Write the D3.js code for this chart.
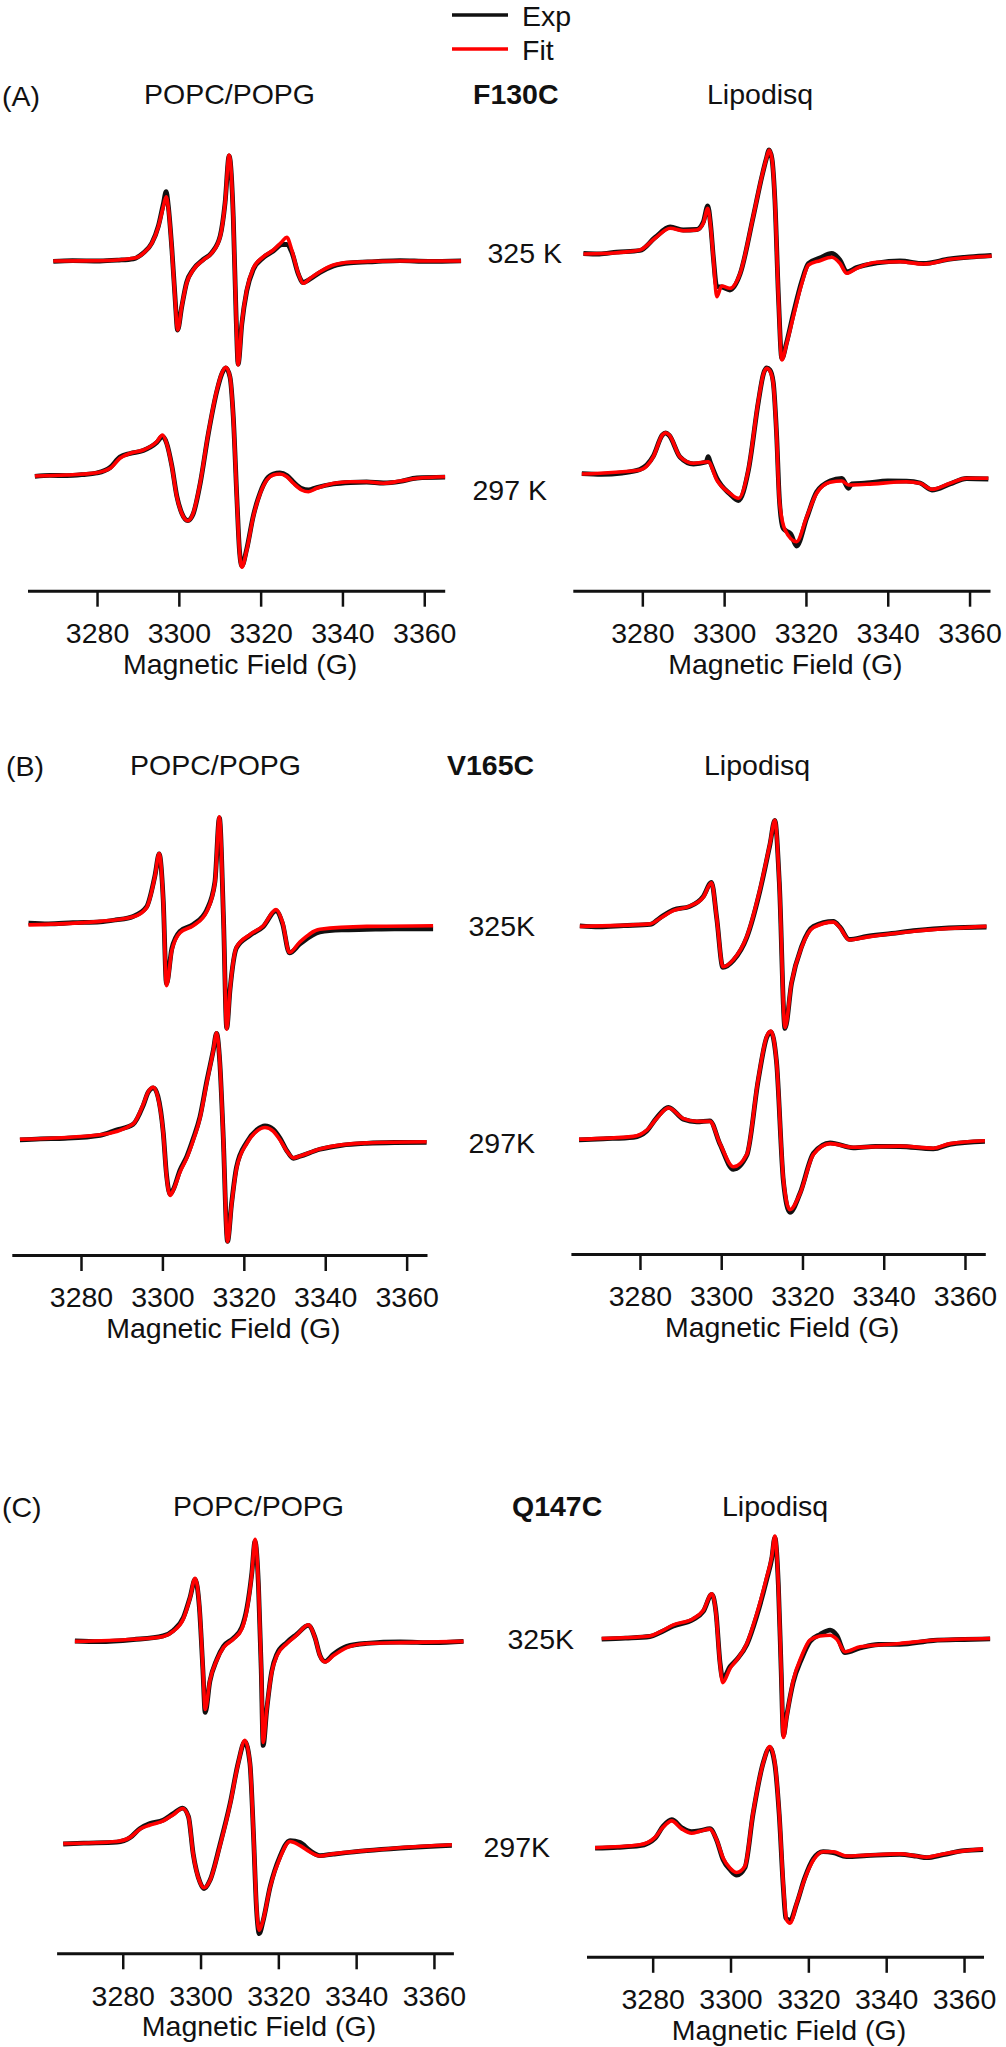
<!DOCTYPE html>
<html>
<head>
<meta charset="utf-8">
<script src="https://cdn.jsdelivr.net/npm/d3@7"></script>
<style>
  html, body { margin: 0; padding: 0; background: #fff; }
  svg { display: block; }
  text { font-family: "Liberation Sans", Arial, sans-serif; fill: #111; }
</style>
</head>
<body>
<script>
// ---------------- DATA (field in G, intensity in arbitrary units) ----------------
const tickValues = [3280, 3300, 3320, 3340, 3360];
const fieldDomain = [3263, 3365];
const seriesNames = ["Exp", "Fit"];
const temperatures = ["325 K", "297 K"];

// (A) F130C, POPC/POPG
const A_POPC_325_fit = [[3269.3,0],[3280.7,0.003],[3288.9,0.027],[3291.3,0.077],[3293.4,0.177],[3295.0,0.343],[3296.2,0.543],[3296.9,0.643],[3297.4,0.543],[3298.3,0.11],[3299.1,-0.39],[3299.7,-0.69],[3300.7,-0.457],[3301.9,-0.223],[3303.5,-0.09],[3306.0,0.01],[3308.0,0.077],[3310.1,0.243],[3311.3,0.577],[3312.3,1.06],[3313.3,0.443],[3314.0,-0.557],[3314.5,-1.04],[3315.4,-0.623],[3316.6,-0.29],[3318.2,-0.073],[3320.7,0.043],[3323.1,0.11],[3325.2,0.193],[3326.4,0.237],[3327.6,0.11],[3329.2,-0.123],[3330.4,-0.223],[3332.1,-0.173],[3334.5,-0.107],[3337.8,-0.04],[3341.9,-0.013],[3354.1,0],[3369.0,0]];
const A_POPC_325_exp = [[3269.3,-0.004],[3274.0,0.004],[3280.7,0.0],[3285.0,0.008],[3288.9,0.022],[3291.3,0.08],[3293.4,0.18],[3295.0,0.35],[3296.2,0.57],[3296.9,0.693],[3297.4,0.56],[3298.3,0.12],[3299.1,-0.38],[3299.7,-0.69],[3300.7,-0.46],[3301.9,-0.215],[3303.5,-0.085],[3306.0,0.016],[3308.0,0.082],[3310.1,0.25],[3311.3,0.58],[3312.3,1.05],[3313.3,0.45],[3314.0,-0.55],[3314.5,-1.03],[3315.4,-0.63],[3316.6,-0.3],[3318.2,-0.085],[3320.7,0.035],[3323.1,0.1],[3325.2,0.165],[3326.4,0.165],[3327.6,0.09],[3329.2,-0.13],[3330.4,-0.215],[3332.1,-0.18],[3334.5,-0.115],[3337.8,-0.05],[3341.9,-0.018],[3348.0,-0.006],[3354.1,0.004],[3361.0,-0.004],[3369.0,0.002]];
const A_POPC_297_fit = [[3264.8,0],[3272.6,0.01],[3279.9,0.033],[3283.2,0.077],[3285.6,0.177],[3288.1,0.227],[3291.3,0.26],[3294.6,0.343],[3296.0,0.41],[3297.0,0.327],[3298.3,0.093],[3299.5,-0.207],[3300.7,-0.373],[3302.2,-0.447],[3303.5,-0.373],[3305.2,-0.073],[3307.2,0.427],[3309.3,0.86],[3310.5,1.027],[3311.5,1.087],[3312.5,0.993],[3313.3,0.593],[3314.2,-0.24],[3314.8,-0.74],[3315.4,-0.913],[3316.6,-0.74],[3318.2,-0.407],[3319.9,-0.173],[3321.5,-0.04],[3323.1,0.01],[3324.7,0.02],[3326.4,-0.007],[3328.0,-0.073],[3330.0,-0.14],[3331.7,-0.157],[3333.7,-0.123],[3337.8,-0.073],[3341.9,-0.057],[3345.9,-0.057],[3350.0,-0.073],[3354.1,-0.05],[3358.2,-0.023],[3365.1,-0.007]];
const A_POPC_297_exp = [[3264.8,-0.004],[3268.5,0.006],[3272.6,0.004],[3276.5,0.014],[3279.9,0.03],[3283.2,0.085],[3285.6,0.19],[3288.1,0.225],[3291.3,0.255],[3294.6,0.335],[3296.0,0.395],[3297.0,0.33],[3298.3,0.1],[3299.5,-0.2],[3300.7,-0.37],[3302.2,-0.445],[3303.5,-0.38],[3305.2,-0.08],[3307.2,0.42],[3309.3,0.85],[3310.5,1.02],[3311.5,1.08],[3312.5,0.99],[3313.3,0.6],[3314.2,-0.23],[3314.8,-0.73],[3315.4,-0.9],[3316.6,-0.73],[3318.2,-0.4],[3319.9,-0.165],[3321.5,-0.03],[3323.1,0.02],[3324.7,0.03],[3326.4,0.005],[3328.0,-0.06],[3330.0,-0.125],[3331.7,-0.14],[3333.7,-0.115],[3337.8,-0.08],[3341.9,-0.065],[3345.9,-0.06],[3350.0,-0.07],[3354.1,-0.055],[3358.2,-0.02],[3365.1,-0.012]];

// (A) F130C, Lipodisq
const A_LIPO_325_fit = [[3265.6,0],[3273.7,0.013],[3279.4,0.04],[3283.1,0.157],[3286.8,0.257],[3290.0,0.233],[3293.3,0.24],[3294.9,0.307],[3296.0,0.457],[3296.7,0.273],[3297.4,-0.06],[3298.2,-0.427],[3299.4,-0.32],[3301.4,-0.343],[3303.9,-0.193],[3307.1,0.373],[3309.2,0.773],[3310.3,0.95],[3311.0,1.04],[3311.7,0.95],[3312.4,0.54],[3313.3,-0.46],[3314.1,-1.06],[3315.3,-0.893],[3316.9,-0.627],[3319.0,-0.293],[3320.6,-0.11],[3323.4,-0.067],[3326.3,-0.033],[3328.3,-0.093],[3330.0,-0.193],[3332.4,-0.143],[3337.3,-0.083],[3343.0,-0.077],[3348.7,-0.1],[3355.2,-0.053],[3365.4,-0.02]];
const A_LIPO_325_exp = [[3265.6,0.005],[3269.5,0.0],[3273.7,0.018],[3279.4,0.035],[3283.1,0.165],[3286.8,0.27],[3290.0,0.24],[3293.3,0.245],[3294.9,0.32],[3296.0,0.48],[3296.7,0.29],[3297.4,-0.05],[3298.2,-0.327],[3299.4,-0.33],[3301.4,-0.36],[3303.9,-0.2],[3307.1,0.37],[3309.2,0.77],[3310.3,0.95],[3311.0,1.04],[3311.7,0.95],[3312.4,0.55],[3313.3,-0.45],[3314.1,-1.045],[3315.3,-0.88],[3316.9,-0.6],[3319.0,-0.27],[3320.6,-0.095],[3323.4,-0.04],[3326.3,0.007],[3328.3,-0.06],[3330.0,-0.18],[3332.4,-0.135],[3337.3,-0.09],[3343.0,-0.07],[3348.7,-0.095],[3355.2,-0.05],[3360.0,-0.03],[3365.4,-0.015]];
const A_LIPO_297_fit = [[3265.2,0],[3279.4,0.04],[3282.7,0.173],[3284.9,0.39],[3285.7,0.413],[3286.6,0.39],[3289.2,0.173],[3292.5,0.107],[3296.1,0.123],[3298.2,-0.06],[3301.4,-0.193],[3303.5,-0.243],[3305.9,0.04],[3308.4,0.74],[3309.6,1.0],[3310.4,1.057],[3311.2,1.03],[3312.0,0.907],[3312.8,0.407],[3313.5,-0.26],[3314.9,-0.56],[3317.7,-0.677],[3320.2,-0.427],[3322.6,-0.193],[3325.9,-0.083],[3328.8,-0.07],[3330.4,-0.11],[3334.9,-0.103],[3344.6,-0.077],[3347.9,-0.093],[3350.8,-0.153],[3355.2,-0.093],[3359.3,-0.043],[3364.6,-0.043]];
const A_LIPO_297_exp = [[3265.2,0.004],[3270.0,-0.004],[3275.0,0.01],[3279.4,0.045],[3282.7,0.18],[3284.9,0.39],[3285.7,0.41],[3286.6,0.385],[3289.2,0.17],[3292.5,0.1],[3295.6,0.12],[3296.1,0.173],[3296.6,0.12],[3298.2,-0.04],[3301.4,-0.2],[3303.5,-0.265],[3305.9,0.03],[3308.4,0.73],[3309.6,1.0],[3310.4,1.06],[3311.2,1.04],[3312.0,0.92],[3312.8,0.42],[3313.5,-0.25],[3314.4,-0.54],[3315.2,-0.57],[3316.3,-0.6],[3317.7,-0.72],[3320.2,-0.44],[3322.6,-0.18],[3325.9,-0.07],[3328.8,-0.043],[3330.4,-0.143],[3331.2,-0.1],[3334.9,-0.09],[3340.0,-0.07],[3344.6,-0.072],[3347.9,-0.09],[3350.8,-0.16],[3355.2,-0.1],[3359.3,-0.045],[3364.6,-0.05]];

// (B) V165C, POPC/POPG
const B_POPC_325_fit = [[3267.1,-0.01],[3284.7,0.025],[3292.8,0.071],[3296.1,0.161],[3298.2,0.482],[3299.2,0.704],[3300.2,0.232],[3301.0,-0.618],[3302.3,-0.268],[3304.3,-0.089],[3307.6,-0.018],[3310.9,0.125],[3312.9,0.411],[3314.0,1.071],[3315.0,0.054],[3315.8,-1.054],[3316.6,-0.661],[3318.2,-0.232],[3321.5,-0.107],[3324.8,-0.018],[3327.9,0.143],[3329.5,0.018],[3331.2,-0.286],[3333.8,-0.179],[3338.7,-0.054],[3350.2,-0.025],[3366.5,-0.018]];
const B_POPC_325_exp = [[3267.1,0.008],[3272.0,0.0],[3278.0,0.012],[3284.7,0.02],[3288.5,0.04],[3292.8,0.075],[3296.1,0.17],[3298.2,0.49],[3299.2,0.7],[3300.2,0.24],[3301.0,-0.6],[3302.3,-0.25],[3304.3,-0.075],[3307.6,-0.005],[3310.9,0.14],[3312.9,0.42],[3314.0,1.06],[3315.0,0.06],[3315.8,-1.04],[3316.6,-0.66],[3318.2,-0.24],[3321.5,-0.115],[3324.8,-0.025],[3327.9,0.13],[3329.5,0.005],[3331.2,-0.29],[3333.8,-0.2],[3338.7,-0.08],[3344.0,-0.06],[3350.2,-0.055],[3357.0,-0.05],[3366.5,-0.05]];
const B_POPC_297_fit = [[3265.0,0],[3284.7,0.046],[3292.8,0.154],[3295.3,0.35],[3296.5,0.475],[3297.8,0.521],[3298.9,0.42],[3300.2,0.064],[3301.0,-0.364],[3301.9,-0.561],[3302.7,-0.507],[3304.3,-0.329],[3306.0,-0.186],[3307.6,-0.007],[3309.2,0.207],[3310.9,0.564],[3312.5,0.886],[3313.3,1.064],[3314.1,0.771],[3314.9,0.064],[3316.0,-1.025],[3317.0,-0.65],[3318.2,-0.293],[3320.7,-0.043],[3323.2,0.082],[3325.2,0.118],[3327.2,0.082],[3328.9,-0.007],[3330.5,-0.114],[3332.2,-0.186],[3333.8,-0.168],[3338.7,-0.096],[3350.2,-0.036],[3364.9,-0.025]];
const B_POPC_297_exp = [[3265.0,-0.006],[3270.0,0.004],[3276.0,0.01],[3284.7,0.04],[3288.5,0.09],[3292.8,0.15],[3295.3,0.34],[3296.5,0.47],[3297.8,0.515],[3298.9,0.43],[3300.2,0.07],[3301.0,-0.35],[3301.9,-0.55],[3302.7,-0.5],[3304.3,-0.31],[3306.0,-0.17],[3307.6,0.01],[3309.2,0.22],[3310.9,0.58],[3312.5,0.89],[3313.3,1.06],[3314.1,0.77],[3314.9,0.07],[3316.0,-1.02],[3317.0,-0.64],[3318.2,-0.28],[3320.7,-0.03],[3323.2,0.095],[3325.2,0.135],[3327.2,0.1],[3328.9,0.01],[3330.5,-0.11],[3332.2,-0.19],[3333.8,-0.17],[3338.7,-0.1],[3344.0,-0.06],[3350.2,-0.04],[3357.0,-0.032],[3364.9,-0.03]];

// (B) V165C, Lipodisq
const B_LIPO_325_fit = [[3265.2,0],[3282.5,0.025],[3284.9,0.079],[3288.2,0.157],[3292.3,0.204],[3295.6,0.293],[3297.6,0.436],[3298.9,0.079],[3300.4,-0.404],[3303.0,-0.332],[3306.3,-0.1],[3309.5,0.364],[3312.0,0.829],[3313.2,1.061],[3314.3,0.436],[3315.7,-1.011],[3317.3,-0.564],[3319.8,-0.207],[3322.7,-0.011],[3327.6,0.043],[3329.2,-0.011],[3331.5,-0.136],[3335.8,-0.107],[3348.1,-0.046],[3365.3,0]];
const B_LIPO_325_exp = [[3265.2,0.006],[3270.0,-0.004],[3276.0,0.008],[3282.5,0.02],[3284.9,0.085],[3288.2,0.165],[3292.3,0.2],[3295.6,0.3],[3297.6,0.44],[3298.9,0.08],[3300.4,-0.41],[3303.0,-0.34],[3306.3,-0.11],[3309.5,0.35],[3312.0,0.82],[3313.2,1.06],[3314.3,0.44],[3315.7,-1.02],[3317.3,-0.57],[3319.8,-0.2],[3322.7,0.0],[3327.6,0.05],[3329.2,-0.005],[3331.5,-0.13],[3335.8,-0.1],[3342.0,-0.07],[3348.1,-0.04],[3356.0,-0.015],[3365.3,-0.006]];
const B_LIPO_297_fit = [[3265.0,0],[3278.4,0.029],[3281.6,0.089],[3284.1,0.207],[3287.0,0.314],[3290.7,0.207],[3294.0,0.179],[3297.2,0.179],[3299.7,-0.043],[3303.0,-0.275],[3306.3,-0.15],[3309.1,0.6],[3311.2,1.029],[3312.2,1.082],[3313.6,0.779],[3315.3,-0.4],[3316.9,-0.704],[3319.4,-0.543],[3322.7,-0.15],[3326.8,-0.043],[3332.5,-0.079],[3344.0,-0.068],[3352.2,-0.089],[3356.3,-0.043],[3364.9,-0.014]];
const B_LIPO_297_exp = [[3265.0,-0.005],[3271.0,0.005],[3278.4,0.02],[3281.6,0.08],[3284.1,0.215],[3287.0,0.32],[3290.7,0.2],[3294.0,0.175],[3297.2,0.185],[3299.7,-0.05],[3303.0,-0.3],[3306.3,-0.16],[3309.1,0.59],[3311.2,1.02],[3312.2,1.075],[3313.6,0.78],[3315.3,-0.42],[3316.9,-0.73],[3319.4,-0.54],[3322.7,-0.14],[3326.8,-0.035],[3332.5,-0.085],[3338.0,-0.07],[3344.0,-0.072],[3352.2,-0.095],[3356.3,-0.05],[3364.9,-0.02]];

// (C) Q147C, POPC/POPG
const C_POPC_325_fit = [[3267.7,0],[3282.7,0.021],[3290.4,0.05],[3293.0,0.103],[3295.6,0.227],[3297.3,0.433],[3298.6,0.632],[3299.7,0.351],[3300.6,-0.268],[3301.2,-0.681],[3302.4,-0.392],[3304.2,-0.186],[3305.9,-0.062],[3308.4,0.021],[3310.6,0.124],[3311.9,0.31],[3313.2,0.681],[3314.0,1.02],[3314.9,0.557],[3315.6,-0.268],[3316.1,-1.011],[3317.0,-0.681],[3318.3,-0.309],[3319.6,-0.144],[3322.2,-0.021],[3324.7,0.062],[3327.7,0.165],[3329.4,0.041],[3330.7,-0.144],[3332.0,-0.206],[3334.1,-0.144],[3337.6,-0.062],[3342.7,-0.021],[3351.3,-0.012],[3367.6,0]];
const C_POPC_325_exp = [[3267.7,0.004],[3274.0,-0.003],[3282.7,0.018],[3290.4,0.055],[3293.0,0.11],[3295.6,0.24],[3297.3,0.44],[3298.6,0.62],[3299.7,0.34],[3300.6,-0.28],[3301.2,-0.71],[3302.4,-0.4],[3304.2,-0.18],[3305.9,-0.05],[3308.4,0.03],[3310.6,0.14],[3311.9,0.33],[3313.2,0.69],[3314.0,1.0],[3314.9,0.55],[3315.6,-0.28],[3316.1,-1.04],[3317.0,-0.69],[3318.3,-0.3],[3319.6,-0.13],[3322.2,-0.01],[3324.7,0.07],[3327.7,0.16],[3329.4,0.04],[3330.7,-0.14],[3332.0,-0.2],[3334.1,-0.13],[3337.6,-0.05],[3342.7,-0.02],[3351.3,-0.006],[3360.0,-0.012],[3367.6,0.0]];
const C_POPC_297_fit = [[3264.7,0],[3278.5,0.021],[3281.9,0.062],[3284.4,0.144],[3287.0,0.186],[3290.4,0.227],[3293.0,0.289],[3295.4,0.351],[3296.9,0.268],[3298.1,-0.103],[3299.9,-0.392],[3300.9,-0.442],[3302.4,-0.371],[3305.0,-0.021],[3307.6,0.392],[3309.7,0.805],[3311.4,1.032],[3312.7,0.805],[3313.6,0.103],[3314.4,-0.64],[3315.1,-0.867],[3316.1,-0.764],[3317.9,-0.433],[3320.4,-0.144],[3323.0,0.021],[3325.6,-0.021],[3328.1,-0.083],[3330.7,-0.124],[3334.1,-0.103],[3342.7,-0.07],[3351.3,-0.041],[3364.6,-0.012]];
const C_POPC_297_exp = [[3264.7,-0.004],[3270.0,0.004],[3278.5,0.015],[3281.9,0.06],[3284.4,0.15],[3287.0,0.2],[3290.4,0.235],[3293.0,0.3],[3295.4,0.355],[3296.9,0.27],[3298.1,-0.1],[3299.9,-0.39],[3300.9,-0.45],[3302.4,-0.37],[3305.0,-0.01],[3307.6,0.4],[3309.7,0.81],[3311.4,1.02],[3312.7,0.8],[3313.6,0.1],[3314.4,-0.66],[3315.1,-0.9],[3316.1,-0.77],[3317.9,-0.43],[3320.4,-0.13],[3323.0,0.03],[3325.6,0.01],[3328.1,-0.07],[3330.7,-0.12],[3334.1,-0.105],[3342.7,-0.07],[3351.3,-0.045],[3358.0,-0.03],[3364.6,-0.018]];

// (C) Q147C, Lipodisq
const C_LIPO_325_fit = [[3266.9,0],[3279.3,0.025],[3281.9,0.066],[3285.3,0.136],[3290.4,0.198],[3293.0,0.281],[3295.2,0.446],[3296.3,0.239],[3297.3,-0.256],[3298.0,-0.442],[3299.9,-0.297],[3301.6,-0.214],[3304.2,-0.05],[3306.7,0.239],[3309.3,0.611],[3310.6,0.817],[3311.4,1.024],[3312.3,0.528],[3313.0,-0.297],[3313.6,-0.99],[3314.4,-0.792],[3316.1,-0.421],[3318.3,-0.173],[3320.4,-0.017],[3323.0,0.025],[3325.6,0.033],[3327.3,-0.008],[3329.4,-0.132],[3333.3,-0.083],[3343.5,-0.05],[3352.1,-0.017],[3366.7,0]];
const C_LIPO_325_exp = [[3266.9,-0.006],[3273.0,0.004],[3279.3,0.02],[3281.9,0.06],[3285.3,0.125],[3290.4,0.19],[3293.0,0.27],[3295.2,0.44],[3296.3,0.25],[3297.3,-0.24],[3298.0,-0.4],[3299.9,-0.28],[3301.6,-0.21],[3304.2,-0.06],[3306.7,0.22],[3309.3,0.59],[3310.6,0.8],[3311.4,1.01],[3312.3,0.53],[3313.0,-0.3],[3313.6,-0.97],[3314.4,-0.78],[3316.1,-0.44],[3318.3,-0.2],[3320.4,-0.03],[3323.0,0.04],[3325.6,0.083],[3327.3,0.03],[3329.4,-0.14],[3333.3,-0.095],[3338.0,-0.06],[3343.5,-0.058],[3352.1,-0.02],[3360.0,-0.01],[3366.7,-0.004]];
const C_LIPO_297_fit = [[3265.2,0],[3276.7,0.029],[3280.6,0.103],[3282.7,0.206],[3284.9,0.268],[3287.5,0.186],[3290.0,0.144],[3292.2,0.165],[3294.7,0.186],[3296.4,0.083],[3298.1,-0.103],[3299.9,-0.206],[3301.6,-0.248],[3303.7,-0.186],[3305.8,0.351],[3308.4,0.846],[3310.1,1.011],[3311.4,0.846],[3312.5,0.351],[3313.6,-0.392],[3314.4,-0.722],[3315.3,-0.754],[3317.0,-0.557],[3319.1,-0.309],[3321.3,-0.124],[3323.8,-0.041],[3326.4,-0.041],[3329.8,-0.083],[3335.0,-0.074],[3343.5,-0.062],[3347.8,-0.083],[3350.4,-0.095],[3354.7,-0.062],[3364.9,-0.012]];
const C_LIPO_297_exp = [[3265.2,-0.005],[3271.0,0.004],[3276.7,0.02],[3280.6,0.095],[3282.7,0.215],[3284.9,0.28],[3287.5,0.2],[3290.0,0.16],[3292.2,0.17],[3294.7,0.19],[3296.4,0.08],[3298.1,-0.12],[3299.9,-0.22],[3301.6,-0.275],[3303.7,-0.2],[3305.8,0.34],[3308.4,0.85],[3310.1,1.0],[3311.4,0.83],[3312.5,0.34],[3313.6,-0.42],[3314.2,-0.7],[3314.8,-0.72],[3315.3,-0.73],[3317.0,-0.56],[3319.1,-0.3],[3321.3,-0.11],[3323.8,-0.04],[3326.4,-0.05],[3329.8,-0.09],[3335.0,-0.08],[3343.5,-0.066],[3347.8,-0.085],[3350.4,-0.1],[3354.7,-0.07],[3360.0,-0.03],[3364.9,-0.02]];

// ---------------- LAYOUT ----------------
const W = 1006, H = 2047;
const FONT = 28.5;
const panels = [
  { x0: 27.5, x1: 444.7, axisY: 590.7, base325: 261,   base297: 476,    exp325: A_POPC_325_exp, fit325: A_POPC_325_fit, exp297: A_POPC_297_exp, fit297: A_POPC_297_fit },
  { x0: 572.8, x1: 990,  axisY: 590.7, base325: 254,   base297: 474,    exp325: A_LIPO_325_exp, fit325: A_LIPO_325_fit, exp297: A_LIPO_297_exp, fit297: A_LIPO_297_fit },
  { x0: 11.8, x1: 427,   axisY: 1255,  base325: 923.9, base297: 1139.3, exp325: B_POPC_325_exp, fit325: B_POPC_325_fit, exp297: B_POPC_297_exp, fit297: B_POPC_297_fit },
  { x0: 570.9, x1: 985.3,axisY: 1254,  base325: 926.4, base297: 1139.3, exp325: B_LIPO_325_exp, fit325: B_LIPO_325_fit, exp297: B_LIPO_297_exp, fit297: B_LIPO_297_fit },
  { x0: 56.6, x1: 453.4, axisY: 1953.3,base325: 1641.4,base297: 1843.6, exp325: C_POPC_325_exp, fit325: C_POPC_325_fit, exp297: C_POPC_297_exp, fit297: C_POPC_297_fit },
  { x0: 586.5, x1: 983.5,axisY: 1956.8,base325: 1638.5,base297: 1847.7, exp325: C_LIPO_325_exp, fit325: C_LIPO_325_fit, exp297: C_LIPO_297_exp, fit297: C_LIPO_297_fit }
];

const texts = [
  // row A
  { t: "(A)", x: 2, y: 106, a: "start" },
  { t: "POPC/POPG", x: 144, y: 104, a: "start" },
  { t: "F130C", x: 473, y: 104, a: "start", b: true },
  { t: "Lipodisq", x: 707, y: 104, a: "start" },
  { t: "325 K", x: 562, y: 263, a: "end" },
  { t: "297 K", x: 547, y: 500, a: "end" },
  // row B
  { t: "(B)", x: 6, y: 776, a: "start" },
  { t: "POPC/POPG", x: 130, y: 775, a: "start" },
  { t: "V165C", x: 447, y: 775, a: "start", b: true },
  { t: "Lipodisq", x: 704, y: 775, a: "start" },
  { t: "325K", x: 535, y: 936, a: "end" },
  { t: "297K", x: 535, y: 1153, a: "end" },
  // row C
  { t: "(C)", x: 2, y: 1517, a: "start" },
  { t: "POPC/POPG", x: 173, y: 1516, a: "start" },
  { t: "Q147C", x: 512, y: 1516, a: "start", b: true },
  { t: "Lipodisq", x: 722, y: 1516, a: "start" },
  { t: "325K", x: 574, y: 1649, a: "end" },
  { t: "297K", x: 550, y: 1857, a: "end" }
];

// ---------------- DRAW ----------------
const svg = d3.select("body").append("svg").attr("width", W).attr("height", H);
svg.append("rect").attr("width", W).attr("height", H).attr("fill", "#fff");

const EXP_COLOR = "#111111", FIT_COLOR = "#ff0000";

panels.forEach(p => {
  const g = svg.append("g");
  const x = d3.scaleLinear().domain(fieldDomain).range([p.x0, p.x1]);
  const y = d3.scaleLinear().domain([0, 1]).range([p.base297, p.base297 - 100]);
  const off325 = (p.base297 - p.base325) / 100;
  const mk = o => d3.line().x(d => x(d[0])).y(d => y(d[1] + o)).curve(d3.curveMonotoneX);

  [[p.exp325, p.fit325, off325], [p.exp297, p.fit297, 0]].forEach(([e, f, o]) => {
    g.append("path").datum(e).attr("d", mk(o)).attr("fill", "none")
      .attr("stroke", EXP_COLOR).attr("stroke-width", 4.8).attr("stroke-linejoin", "round");
    g.append("path").datum(f).attr("d", mk(o)).attr("fill", "none")
      .attr("stroke", FIT_COLOR).attr("stroke-width", 3.6).attr("stroke-linejoin", "round");
  });

  const axis = d3.axisBottom(x).tickValues(tickValues).tickSize(16).tickSizeOuter(0)
    .tickPadding(16).tickFormat(d3.format("d"));
  const ag = g.append("g").attr("transform", `translate(0,${p.axisY})`).call(axis);
  ag.select(".domain").attr("stroke", "#111").attr("stroke-width", 3);
  ag.selectAll(".tick line").attr("stroke", "#111").attr("stroke-width", 2.5);
  ag.selectAll(".tick text").attr("font-size", FONT).attr("fill", "#111")
    .attr("font-family", "Liberation Sans, Arial, sans-serif");

  g.append("text").attr("x", (p.x0 + p.x1) / 2 + 4).attr("y", p.axisY + 83)
    .attr("text-anchor", "middle").attr("font-size", FONT).text("Magnetic Field (G)");
});

texts.forEach(d => {
  svg.append("text").attr("x", d.x).attr("y", d.y).attr("text-anchor", d.a)
    .attr("font-size", FONT).attr("font-weight", d.b ? "bold" : "normal").text(d.t);
});

// legend
const legend = svg.append("g");
seriesNames.forEach((s, i) => {
  const ly = 15 + i * 34;
  legend.append("line").attr("x1", 452).attr("x2", 508).attr("y1", ly).attr("y2", ly)
    .attr("stroke", i === 0 ? EXP_COLOR : FIT_COLOR).attr("stroke-width", 3.5);
  legend.append("text").attr("x", 522).attr("y", ly + 11).attr("font-size", FONT).text(s);
});
</script>
</body>
</html>
